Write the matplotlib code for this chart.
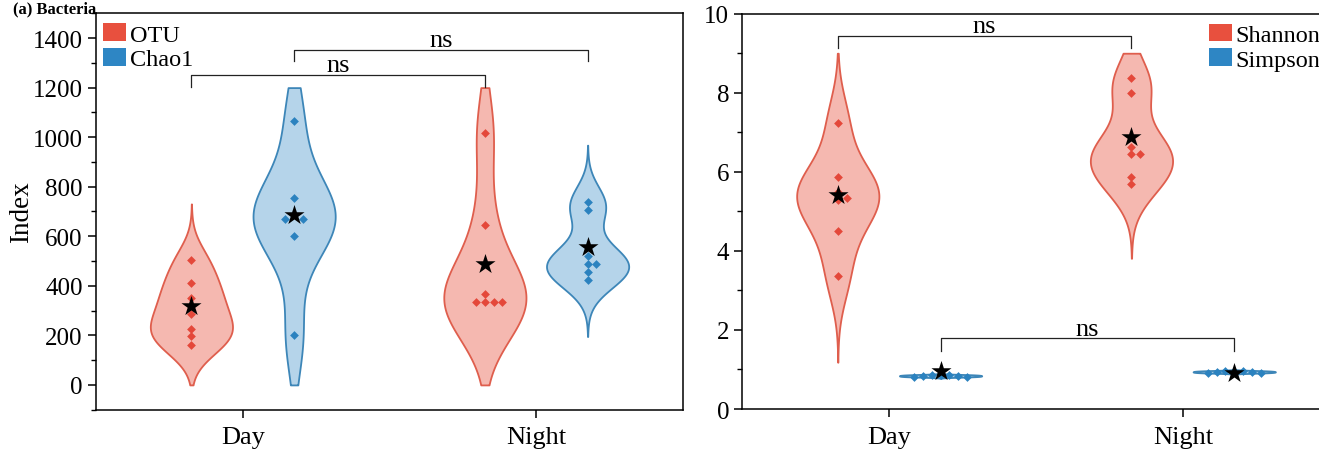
import numpy as np
import matplotlib
matplotlib.use('Agg')
import matplotlib.pyplot as plt
from matplotlib.patches import Patch
from matplotlib.ticker import MultipleLocator

plt.rcParams['font.family'] = ['Liberation Serif', 'DejaVu Serif']

groups = ['Day', 'Night']

# left panel: richness
otu_day = [504, 411, 350, 286, 225, 196, 162]
otu_night = [1015, 644, 367, 334, 334, 334, 334]
chao1_day = [1065, 756, 690, 668, 668, 603, 200]
chao1_night = [739, 708, 522, 489, 489, 455, 424]
otu_star = [317, 489]
chao1_star = [684, 556]

# right panel: diversity
shannon_day = [7.23, 5.88, 5.50, 5.35, 5.29, 4.51, 3.36]
shannon_night = [8.37, 7.99, 6.64, 6.45, 6.45, 5.88, 5.68]
simpson_day = [0.87, 0.86, 0.85, 0.84, 0.83, 0.82, 0.81]
simpson_night = [0.97, 0.96, 0.95, 0.94, 0.93, 0.92, 0.91]
shannon_star = [5.41, 6.87]
simpson_star = [0.95, 0.92]

red_fill, red_edge, red_pt = '#F5B8B0', '#DF5E4D', '#E4483A'
blue_fill, blue_edge, blue_pt = '#B5D4EA', '#3D86B8', '#2B82BF'


def kde_stats(vals, lo, hi):
    v = np.asarray(vals, float)
    bw = 0.9 * v.std(ddof=1) * len(v) ** -0.2
    y = np.linspace(max(v.min() - 3 * bw, lo), min(v.max() + 3 * bw, hi), 300)
    d = np.exp(-0.5 * ((y[:, None] - v[None, :]) / bw) ** 2).sum(1)
    return dict(coords=y, vals=d, mean=v.mean(), median=np.median(v),
                min=v.min(), max=v.max(), quantiles=np.array([]))


def swarm(vals, thr, step):
    vals = np.asarray(vals, float)
    offs = np.zeros(len(vals))
    placed = []
    for i in np.argsort(-vals, kind='stable'):
        k = 0
        found = None
        while found is None:
            cands = [0.0] if k == 0 else [k * step, -k * step]
            for c in cands:
                if all(abs(vals[i] - vals[j]) >= thr or abs(c - offs[j]) >= step * 0.99 for j in placed):
                    found = c
                    break
            k += 1
        offs[i] = found
        placed.append(i)
    return offs


def draw_series(ax, data, stars, pos, lo, hi, fill, edge, pt, thr):
    stats = [kde_stats(d, lo, hi) for d in data]
    parts = ax.violin(stats, positions=pos, widths=0.28, showextrema=False)
    for b in parts['bodies']:
        b.set_facecolor(fill)
        b.set_edgecolor(edge)
        b.set_linewidth(1.3)
        b.set_alpha(1)
    for d, p in zip(data, pos):
        offs = swarm(d, thr, 0.03)
        ax.scatter(p + offs, d, marker='D', s=20, color=pt, zorder=3, linewidths=0)
    ax.scatter(pos, stars, marker='*', s=230, color='black', zorder=4, linewidths=0)


def bracket(ax, x1, x2, y, leg):
    ax.plot([x1, x1, x2, x2], [y - leg, y, y, y - leg], color='#222222', lw=0.9, zorder=5)
    ax.text((x1 + x2) / 2, y - leg * 0.1, 'ns', ha='center', va='bottom', fontsize=19)


fig = plt.figure(figsize=(13.19, 4.52), dpi=100)
ax1 = fig.add_axes([0.0728, 0.0914, 0.445, 0.877])
ax2 = fig.add_axes([0.5628, 0.0929, 0.4453, 0.8746])

x = np.arange(1, len(groups) + 1)
off = 0.175

draw_series(ax1, [otu_day, otu_night], otu_star, x - off, 0, 1200, red_fill, red_edge, red_pt, 28)
draw_series(ax1, [chao1_day, chao1_night], chao1_star, x + off, 0, 1200, blue_fill, blue_edge, blue_pt, 28)
bracket(ax1, x[0] - off, x[1] - off, 1252, 48)
bracket(ax1, x[0] + off, x[1] + off, 1353, 47)
ax1.set_ylim(-100, 1500)
ax1.yaxis.set_major_locator(MultipleLocator(200))
ax1.yaxis.set_minor_locator(MultipleLocator(100))
ax1.set_ylabel('Index', fontsize=19.5)
ax1.yaxis.set_label_coords(-0.105, 0.5)

draw_series(ax2, [shannon_day, shannon_night], shannon_star, x - off, 0, 9, red_fill, red_edge, red_pt, 0.18)
draw_series(ax2, [simpson_day, simpson_night], simpson_star, x + off, 0, 9, blue_fill, blue_edge, blue_pt, 0.18)
bracket(ax2, x[0] - off, x[1] - off, 9.43, 0.31)
bracket(ax2, x[0] + off, x[1] + off, 1.79, 0.32)
ax2.set_ylim(0, 10)
ax2.yaxis.set_major_locator(MultipleLocator(2))
ax2.yaxis.set_minor_locator(MultipleLocator(1))

for ax in (ax1, ax2):
    ax.set_xlim(0.5, 2.5)
    ax.set_xticks(x)
    ax.set_xticklabels(groups, fontsize=19)
    ax.tick_params(axis='both', which='major', direction='out', length=6, width=1.1)
    ax.tick_params(axis='x', which='major', pad=6)
    ax.tick_params(axis='y', which='major', labelsize=18)
    ax.tick_params(axis='y', which='minor', direction='out', length=3.5, width=1.0)
    ax.tick_params(axis='x', which='minor', bottom=False)
    for s in ax.spines.values():
        s.set_linewidth(1.1)

h1 = [Patch(facecolor='#E8503E', label='OTU'), Patch(facecolor='#2E86C4', label='Chao1')]
ax1.legend(handles=h1, loc='upper left', bbox_to_anchor=(0.012, 0.975), frameon=False,
           fontsize=17.5, handlelength=0.95, handleheight=0.75, handletextpad=0.15,
           labelspacing=0.1, borderpad=0, borderaxespad=0)
h2 = [Patch(facecolor='#E8503E', label='Shannon'), Patch(facecolor='#2E86C4', label='Simpson')]
ax2.legend(handles=h2, loc='upper left', bbox_to_anchor=(0.794, 0.975), frameon=False,
           fontsize=17.5, handlelength=0.95, handleheight=0.75, handletextpad=0.15,
           labelspacing=0.1, borderpad=0, borderaxespad=0)

fig.text(0.0099, 0.997, '(a) Bacteria', fontsize=12, fontweight='bold', ha='left', va='top')

fig.savefig('out.png', dpi=100)
